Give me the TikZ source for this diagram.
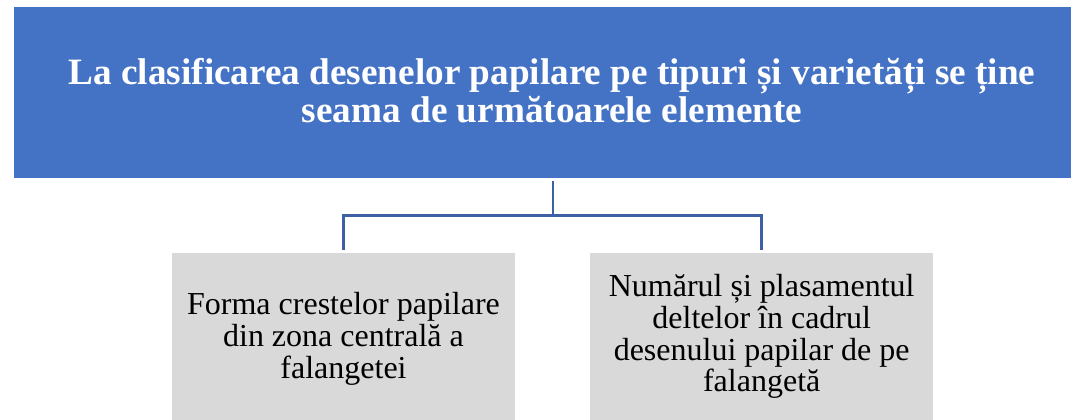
\documentclass[tikz,border=0pt]{standalone}
\usepackage{fontspec}
\setmainfont{Liberation Serif}
\definecolor{titleblue}{HTML}{4472C4}
\definecolor{boxgrey}{HTML}{D9D9D9}
\definecolor{connblue}{HTML}{3C5FA6}
\begin{document}
\begin{tikzpicture}[x=1pt,y=-1pt,
  titlebox/.style={fill=titleblue,draw=none,inner sep=0,minimum width=1078pt,minimum height=170pt},
  greybox/.style={fill=boxgrey,draw=none,inner sep=0,minimum width=343.3pt,minimum height=200pt},
  titletext/.style={text=white,font=\fontsize{37.2}{38.4}\selectfont\bfseries,align=center,inner sep=0,anchor=base},
  boxtext/.style={text=black,font=\fontsize{32}{31.7}\selectfont,align=center,inner sep=0,anchor=base},
  conn/.style={draw=connblue,line width=2.6pt}]
\useasboundingbox (0,0) rectangle (1071,420);
\clip (0,0) rectangle (1071,420);
\node[titlebox] (title) at (553,92.5) {};
\node[greybox] (lbox) at (343.3,353) {};
\node[greybox] (rbox) at (761.7,353) {};
\node[titletext] (ttext) at (552,122.7) {La clasificarea desenelor papilare pe tipuri și varietăți se ține\\seama de următoarele elemente};
\node[boxtext] (ltext) at (343.5,378) {Forma crestelor papilare\\din zona centrală a\\falangetei};
\node[boxtext] (rtext) at (761.7,391.7) {Numărul și plasamentul\\deltelor în cadrul\\desenului papilar de pe\\falangetă};
\draw[conn] ([yshift=-3pt]title.south) -- ++(0,34.5) coordinate (mid) -| ([yshift=3pt]lbox.north);
\draw[conn] (mid) -| ([yshift=3pt]rbox.north);
\end{tikzpicture}
\end{document}
